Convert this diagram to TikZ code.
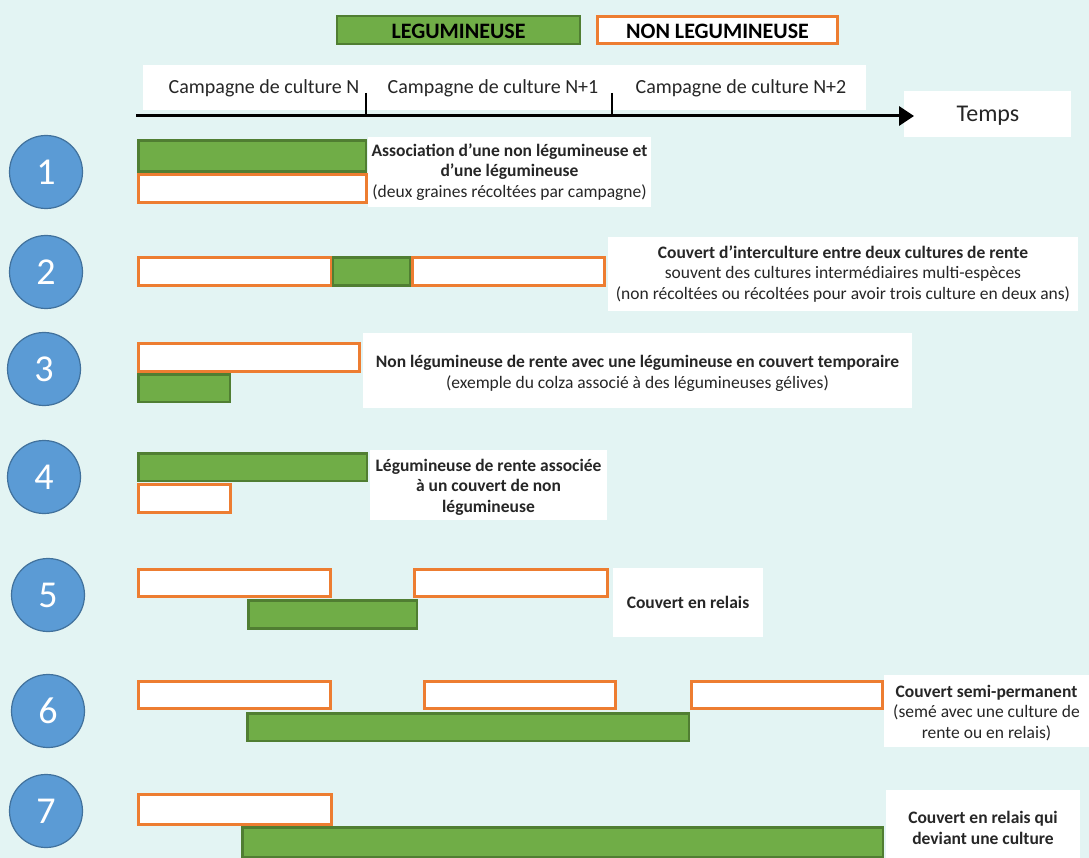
\documentclass[tikz,border=0pt]{standalone}
\usepackage{fontspec}
\setmainfont{Carlito}
\usetikzlibrary{fit,arrows.meta}
\definecolor{bg}{HTML}{E3F4F3}
\definecolor{leggreen}{HTML}{70AD47}
\definecolor{legdark}{HTML}{507E32}
\definecolor{nonorange}{HTML}{ED7D31}
\definecolor{numblue}{HTML}{5B9BD5}
\definecolor{numdark}{HTML}{41719C}
\definecolor{txt}{HTML}{262626}
\tikzset{
  leg/.style={draw=legdark, fill=leggreen, line width=2.5pt, inner sep=0pt},
  non/.style={draw=nonorange, fill=white, line width=3pt, inner sep=0pt},
  wbox/.style={fill=white, inner sep=0pt},
  num/.style={circle, draw=numdark, fill=numblue, line width=1.2pt, minimum size=73pt, inner sep=0pt, text=white, font=\fontsize{38}{40}\selectfont},
  lbl/.style={align=center, inner sep=0pt, text=txt, font=\fontsize{17.5}{20.5}\selectfont},
  camp/.style={inner sep=0pt, text=txt, font=\fontsize{20}{22}\selectfont},
  legtxt/.style={inner sep=0pt, text=black, font=\fontsize{22}{24}\selectfont\bfseries},
  axis/.style={line width=3pt, -{Triangle[length=15pt,width=19pt]}},
  tick/.style={line width=2pt}
}
\begin{document}
\begin{tikzpicture}[x=1pt,y=-1pt]
\useasboundingbox (0,0) rectangle (1089,858);
\fill[bg] (0,0) rectangle (1089,858);

% legend
\node[leg, fit={(337,16)(580,44)}] (lg) {};
\node[legtxt] (lgt) at ([yshift=-1pt]lg.center) {LEGUMINEUSE};
\node[non, fit={(597.5,16.5)(837.5,43.5)}] (ln) {};
\node[legtxt] (lnt) at ([yshift=-1pt]ln.center) {NON LEGUMINEUSE};

% timeline
\node[wbox, fit={(143,65)(866,110)}] (tl) {};
\node[camp] (c0) at (264,88) {Campagne de culture N};
\node[camp] (c1) at (493,88) {Campagne de culture N+1};
\node[camp] (c2) at (741,88) {Campagne de culture N+2};
\node[wbox, fit={(904,91)(1071,137)}] (tb) {};
\node[inner sep=0pt, text=txt, font=\fontsize{24}{26}\selectfont] (tt) at (988,116) {Temps};
\coordinate (a0) at (136,116);
\coordinate (a1) at (914,116);
\draw[axis] (a0) -- (a1);
\coordinate (k1t) at (366,93);
\coordinate (k1b) at (366,116);
\coordinate (k2t) at (612,93);
\coordinate (k2b) at (612,116);
\draw[tick] (k1t) -- (k1b);
\draw[tick] (k2t) -- (k2b);

% circles
\node[num] (n1) at (46,172) {1};
\node[num] (n2) at (46,272) {2};
\node[num] (n3) at (44,369) {3};
\node[num] (n4) at (44,477) {4};
\node[num] (n5) at (48,595) {5};
\node[num] (n6) at (48,711) {6};
\node[num] (n7) at (46,811) {7};

% row 1
\node[leg, fit={(138.5,140.5)(366,171.5)}] (r1a) {};
\node[non, fit={(138.5,174.5)(366,202.5)}] (r1b) {};
\node[wbox, fit={(368,137)(651,207)}] (b1) {};
\node[lbl] (t1) at (b1.center) {\textbf{Association d’une non légumineuse et}\\\textbf{d’une légumineuse}\\(deux graines récoltées par campagne)};

% row 2
\node[non, fit={(138.5,257.5)(331,285.5)}] (r2a) {};
\node[leg, fit={(333,257.5)(410,285.5)}] (r2b) {};
\node[non, fit={(412.5,257.5)(604,285.5)}] (r2c) {};
\node[wbox, fit={(608,237)(1078,311)}] (b2) {};
\node[lbl] (t2) at (b2.center) {\textbf{Couvert d’interculture entre deux cultures de rente}\\souvent des cultures intermédiaires multi-espèces\\(non récoltées ou récoltées pour avoir trois culture en deux ans)};

% row 3
\node[non, fit={(138.5,343.5)(359,371)}] (r3a) {};
\node[leg, fit={(138.5,374.5)(230,402)}] (r3b) {};
\node[wbox, fit={(363,333)(912,408)}] (b3) {};
\node[lbl] (t3) at ([yshift=-3pt]b3.center) {\textbf{Non légumineuse de rente avec une légumineuse en couvert temporaire}\\(exemple du colza associé à des légumineuses gélives)};

% row 4
\node[leg, fit={(138.5,453.5)(367,481)}] (r4a) {};
\node[non, fit={(138.5,484.5)(230,512.5)}] (r4b) {};
\node[wbox, fit={(370,450)(607,520)}] (b4) {};
\node[lbl] (t4) at ([yshift=-2pt]b4.center) {\textbf{Légumineuse de rente associée}\\\textbf{à un couvert de non}\\\textbf{légumineuse}};

% row 5
\node[non, fit={(138.5,569.5)(330,596)}] (r5a) {};
\node[non, fit={(414.5,569.5)(607,596)}] (r5c) {};
\node[leg, fit={(248.5,600.5)(417,628.5)}] (r5b) {};
\node[wbox, fit={(613,568)(763,637)}] (b5) {};
\node[lbl] (t5) at (b5.center) {\textbf{Couvert en relais}};

% row 6
\node[non, fit={(138.5,681.5)(330,708)}] (r6a) {};
\node[non, fit={(424.5,681.5)(615,708)}] (r6c) {};
\node[non, fit={(691.5,681.5)(882,708)}] (r6e) {};
\node[leg, fit={(247.5,713.5)(689,741)}] (r6b) {};
\node[wbox, fit={(884,675)(1089,747)}] (b6) {};
\node[lbl] (t6) at ([yshift=-2pt]b6.center) {\textbf{Couvert semi-permanent}\\(semé avec une culture de\\rente ou en relais)};

% row 7
\node[non, fit={(138.5,794.5)(331,824)}] (r7a) {};
\node[leg, fit={(242.5,827.5)(883,857)}] (r7b) {};
\node[wbox, fit={(886,790)(1080,858)}] (b7) {};
\node[lbl] (t7) at ([yshift=-4pt]b7.center) {\textbf{Couvert en relais qui}\\\textbf{deviant une culture}};
\end{tikzpicture}
\end{document}
